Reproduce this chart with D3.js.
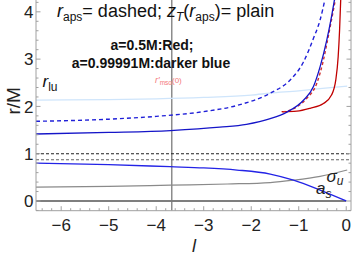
<!DOCTYPE html>
<html>
<head>
  <meta charset="utf-8">
  <script src="https://d3js.org/d3.v7.min.js"></script>
  <style>
    body { margin: 0; background: #fff; }
    text { font-family: "Liberation Sans", Arial, sans-serif; }
  </style>
</head>
<body>
  <svg id="chart"></svg>

  <script>
    // data: [l, r/M]
    const rluCurve   = [[-6.53,2.135],[-5,2.145],[-4,2.16],[-3,2.19],[-2,2.24],[-1.6,2.28],[-1,2.33],[-0.5,2.38],[0.02,2.43]];
    const apsBlue    = [[-6.53,1.685],[-5,1.73],[-4,1.79],[-3,1.89],[-2.3,2.02],[-1.6,2.28],[-1.18,2.56],[-0.9,2.94],[-0.69,3.44],[-0.55,3.83],[-0.44,4.3]];
    const zTBlue     = [[-6.53,1.417],[-5,1.45],[-3.7,1.49],[-2.66,1.56],[-2.1,1.62],[-1.6,1.74],[-1.25,1.88],[-0.9,2.13],[-0.69,2.42],[-0.55,2.84],[-0.41,3.40],[-0.31,3.90],[-0.24,4.3]];
    const apsRed     = [[-1.34,1.88],[-1.04,1.99],[-0.83,2.17],[-0.62,2.49],[-0.48,2.98],[-0.38,3.47],[-0.27,4.04],[-0.22,4.3]];
    const zTRed      = [[-1.36,1.89],[-1.04,1.90],[-0.76,1.96],[-0.48,2.06],[-0.31,2.24],[-0.22,2.56],[-0.17,3.05],[-0.14,3.62],[-0.115,4.3]];
    const aSCurve    = [[-6.53,0.80],[-5,0.77],[-3.71,0.725],[-3.0,0.70],[-2.3,0.655],[-1.6,0.57],[-1.11,0.44],[-0.55,0.23],[0,0.0]];
    const sigmaCurve = [[-6.53,0.295],[-5,0.31],[-3.7,0.335],[-2.5,0.36],[-1.6,0.39],[-1.11,0.44],[-0.55,0.52],[0.02,0.655]];
    const levels     = [1, 0.873];        // dashed horizontal lines
    const lMso       = -3.672;            // vertical line r'_mso(0)
    const xTicks     = [-6, -5, -4, -3, -2, -1, 0];
    const yTicks     = [0, 1, 2, 3, 4];

    const width = 354, height = 258;
    const svg = d3.select("#chart").attr("width", width).attr("height", height);

    const x = d3.scaleLinear().domain([-6.53, 0.1]).range([36, 351]);
    const y = d3.scaleLinear().domain([-0.205, 4.25]).range([210.7, 0]);

    svg.append("clipPath").attr("id", "clip")
      .append("rect").attr("x", 36).attr("y", 0).attr("width", 315).attr("height", 210.7);

    const plot = svg.append("g").attr("clip-path", "url(#clip)");
    const line = d3.line().x(d => x(d[0])).y(d => y(d[1])).curve(d3.curveMonotoneX);

    // frame
    const frameCol = "#a0a0a0";
    svg.append("line").attr("x1", 36).attr("x2", 36).attr("y1", 0).attr("y2", 210.7).attr("stroke", frameCol);
    svg.append("line").attr("x1", 36).attr("x2", 351).attr("y1", 210.7).attr("y2", 210.7).attr("stroke", frameCol);
    svg.append("line").attr("x1", 351).attr("x2", 351).attr("y1", 0).attr("y2", 210.7).attr("stroke", frameCol);

    // ticks (inside the frame)
    const xMinor = d3.range(-6.4, 0.1, 0.2).map(v => +v.toFixed(1));
    xMinor.forEach(v => {
      const major = Math.abs(v - Math.round(v)) < 1e-6;
      svg.append("line").attr("x1", x(v)).attr("x2", x(v))
        .attr("y1", 210.7).attr("y2", 210.7 - (major ? 4.5 : 2.5)).attr("stroke", frameCol);
    });
    const yMinor = d3.range(-0.2, 4.25, 0.2).map(v => +v.toFixed(1));
    yMinor.forEach(v => {
      const major = Math.abs(v - Math.round(v)) < 1e-6;
      const len = major ? 4.5 : 2.5;
      svg.append("line").attr("x1", 36).attr("x2", 36 + len).attr("y1", y(v)).attr("y2", y(v)).attr("stroke", frameCol);
      svg.append("line").attr("x1", 351).attr("x2", 351 - len).attr("y1", y(v)).attr("y2", y(v)).attr("stroke", frameCol);
    });

    svg.selectAll(".xl").data(xTicks).enter().append("text")
      .attr("x", d => x(d)).attr("y", 231).attr("text-anchor", "middle")
      .attr("font-size", "17px").attr("fill", "#222")
      .text(d => d3.format("d")(d));
    svg.selectAll(".yl").data(yTicks).enter().append("text")
      .attr("x", 33.5).attr("y", d => y(d) + 6.3).attr("text-anchor", "end")
      .attr("font-size", "17px").attr("fill", "#222")
      .text(d => d);

    // reference lines
    plot.append("line").attr("x1", x(-6.53)).attr("x2", x(0)).attr("y1", y(0)).attr("y2", y(0))
      .attr("stroke", "#555").attr("stroke-width", 1.6);
    plot.append("line").attr("x1", x(lMso)).attr("x2", x(lMso)).attr("y1", 0).attr("y2", 210.7)
      .attr("stroke", "#7a7a7a").attr("stroke-width", 1.3);
    plot.selectAll(".lev").data(levels).enter().append("line")
      .attr("x1", 36).attr("x2", 351).attr("y1", d => y(d)).attr("y2", d => y(d))
      .attr("stroke", (d, i) => i ? "#666" : "#222").attr("stroke-width", 1.1)
      .attr("stroke-dasharray", "3,2");

    // curves
    plot.append("path").attr("d", line(rluCurve)).attr("fill", "none").attr("stroke", "#cfe5fb").attr("stroke-width", 1.3);
    plot.append("path").attr("d", line(sigmaCurve)).attr("fill", "none").attr("stroke", "#8a8a8a").attr("stroke-width", 1.2);
    plot.append("path").attr("d", line(aSCurve)).attr("fill", "none").attr("stroke", "#2323e6").attr("stroke-width", 1.3);
    plot.append("path").attr("d", line(zTRed)).attr("fill", "none").attr("stroke", "#c00000").attr("stroke-width", 1.3);
    plot.append("path").attr("d", line(apsRed)).attr("fill", "none").attr("stroke", "#d03030").attr("stroke-width", 1.4)
      .attr("stroke-dasharray", "3,2.5");
    plot.append("path").attr("d", line(zTBlue)).attr("fill", "none").attr("stroke", "#1515c8").attr("stroke-width", 1.3);
    plot.append("path").attr("d", line(apsBlue)).attr("fill", "none").attr("stroke", "#2020d8").attr("stroke-width", 1.4)
      .attr("stroke-dasharray", "4,3");

    // texts
    const title = svg.append("text").attr("x", 57).attr("y", 16.7).attr("font-size", "18px").attr("fill", "#111");
    title.append("tspan").attr("font-style", "italic").text("r");
    title.append("tspan").attr("font-size", "12px").attr("dy", 4).text("aps");
    title.append("tspan").attr("dy", -4).text("= dashed; ");
    title.append("tspan").attr("font-style", "italic").text("z");
    title.append("tspan").attr("font-style", "italic").attr("font-size", "12px").attr("dy", 4).text("T");
    title.append("tspan").attr("dy", -4).text("(");
    title.append("tspan").attr("font-style", "italic").text("r");
    title.append("tspan").attr("font-size", "12px").attr("dy", 4).text("aps");
    title.append("tspan").attr("dy", -4).text(")= plain");

    svg.append("text").attr("x", 152).attr("y", 50).attr("text-anchor", "middle")
      .attr("font-size", "14px").attr("font-weight", "bold").attr("fill", "#111").text("a=0.5M:Red;");
    svg.append("text").attr("x", 151).attr("y", 68.3).attr("text-anchor", "middle")
      .attr("font-size", "14px").attr("font-weight", "bold").attr("fill", "#111").text("a=0.99991M:darker blue");

    const rlu = svg.append("text").attr("x", 42.5).attr("y", 87.3).attr("font-size", "17px").attr("fill", "#111");
    rlu.append("tspan").attr("font-style", "italic").text("r");
    rlu.append("tspan").attr("font-size", "12px").attr("dy", 3.5).text("lu");

    const mso = svg.append("text").attr("x", 155).attr("y", 83).attr("font-size", "9px").attr("fill", "#f47a7a");
    mso.append("tspan").attr("font-style", "italic").text("r′");
    mso.append("tspan").attr("font-size", "6.5px").attr("dy", 2).text("mso");
    mso.append("tspan").attr("font-size", "8px").attr("dy", -2).text("(0)");

    const sig = svg.append("text").attr("x", 326.5).attr("y", 181.7).attr("font-size", "17px").attr("fill", "#222");
    sig.append("tspan").attr("font-style", "italic").text("σ");
    sig.append("tspan").attr("font-style", "italic").attr("font-size", "12px").attr("dy", 3.5).text("u");

    const as = svg.append("text").attr("x", 316).attr("y", 194).attr("font-size", "17px").attr("fill", "#222");
    as.append("tspan").attr("font-style", "italic").text("a");
    as.append("tspan").attr("font-style", "italic").attr("font-size", "12px").attr("dy", 3.5).text("s");

    svg.append("text").attr("transform", "translate(20,100.8) rotate(-90)").attr("text-anchor", "middle")
      .attr("font-size", "19px").attr("fill", "#222").text("r/M");
    svg.append("text").attr("x", 194).attr("y", 252).attr("text-anchor", "middle")
      .attr("font-size", "18px").attr("font-style", "italic").attr("fill", "#222").text("l");
  </script>
</body>
</html>
